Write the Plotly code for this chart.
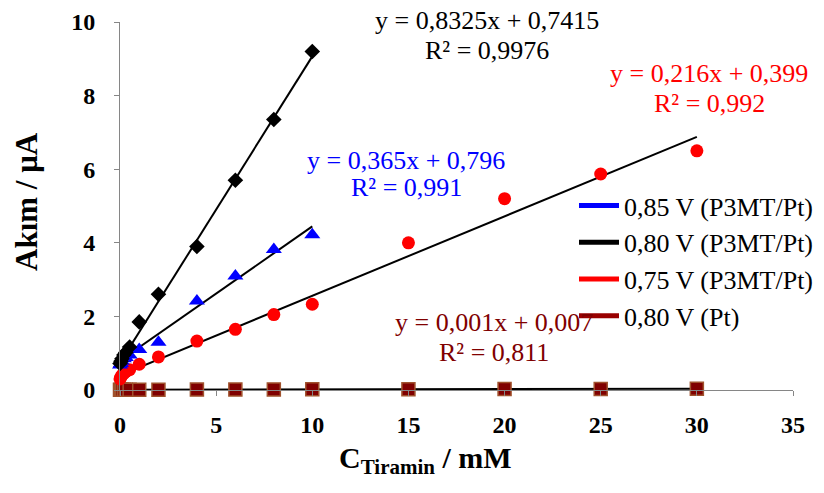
import plotly.graph_objects as go

# ---------------- data ----------------
x_p3mt = [0, 0.05, 0.1, 0.2, 0.3, 0.5, 1, 2, 4, 6, 8, 10]
y_080_p3mt = [0.72, 0.78, 0.85, 0.95, 1.02, 1.17, 1.85, 2.6, 3.9, 5.7, 7.35, 9.2]
y_085_p3mt = [0.68, 0.72, 0.78, 0.85, 0.88, 0.95, 1.1, 1.3, 2.42, 3.1, 3.82, 4.22]

x_075 = [0, 0.05, 0.1, 0.2, 0.3, 0.5, 1, 2, 4, 6, 8, 10, 15, 20, 25, 30]
y_075_p3mt = [0.3, 0.35, 0.4, 0.45, 0.5, 0.55, 0.7, 0.9, 1.33, 1.65, 2.05, 2.33, 4.0, 5.2, 5.87, 6.5]

x_pt = [0, 0.05, 0.1, 0.2, 0.3, 0.5, 1, 2, 4, 6, 8, 10, 15, 20, 25, 30]
y_080_pt = [0.005, 0.006, 0.006, 0.007, 0.008, 0.008, 0.01, 0.01, 0.012, 0.014,
            0.016, 0.018, 0.022, 0.028, 0.03, 0.037]

series_names = ["0,85 V (P3MT/Pt)", "0,80 V (P3MT/Pt)", "0,75 V (P3MT/Pt)", "0,80 V (Pt)"]
series_colors = ["#0000FF", "#000000", "#FF0000", "#990000"]
label_colors = ["#0000FF", "#000000", "#FF0000", "#800000"]

fit_slopes = [0.365, 0.8325, 0.216, 0.001]
fit_intercepts = [0.796, 0.7415, 0.399, 0.007]
fit_r2 = ["0,991", "0,9976", "0,992", "0,811"]
fit_xmax = [10, 10, 30, 30]

x_ticks = [0, 5, 10, 15, 20, 25, 30, 35]
y_ticks = [0, 2, 4, 6, 8, 10]

# ---------------- layout constants (page pixels) ----------------
OFF = 8                       # default page body margin
PAGE_W, PAGE_H = 824, 493
W, H = PAGE_W - OFF, PAGE_H - OFF
PLOT_L, PLOT_R, PLOT_T, PLOT_B = 120, 793, 22, 390   # plot area in page pixels
L, T = PLOT_L - OFF, PLOT_T - OFF
R, B = W - (PLOT_R - OFF), H - (PLOT_B - OFF)
PW, PH = PLOT_R - PLOT_L, PLOT_B - PLOT_T

def px(xp):
    return (xp - PLOT_L) / PW

def py(yp):
    return (PLOT_B - yp) / PH

# label centres in page pixels: (x, y_eq, y_r2)
label_pos = [(406, 160, 187), (487, 21, 50), (709, 73, 103), (494, 322, 352)]

FONT = "Liberation Serif, Times New Roman, serif"

fig = go.Figure()

# trendlines (black)
for i in range(4):
    xs = [0, fit_xmax[i]]
    ys = [fit_intercepts[i] + fit_slopes[i] * v for v in xs]
    fig.add_trace(go.Scatter(x=xs, y=ys, mode="lines",
                             line=dict(color="black", width=2),
                             showlegend=False, hoverinfo="skip", cliponaxis=False))

# markers
fig.add_trace(go.Scatter(x=x_pt, y=y_080_pt, mode="markers", showlegend=False,
                         marker=dict(symbol="square", size=13, color="#800000",
                                     line=dict(color="#A0522D", width=1.5)),
                         cliponaxis=False))
fig.add_trace(go.Scatter(x=x_075, y=y_075_p3mt, mode="markers", showlegend=False,
                         marker=dict(symbol="circle", size=13, color="#FF0000"),
                         cliponaxis=False))
fig.add_trace(go.Scatter(x=x_p3mt, y=y_085_p3mt, mode="markers", showlegend=False,
                         marker=dict(symbol="triangle-up", size=14, color="#0000FF"),
                         cliponaxis=False))
fig.add_trace(go.Scatter(x=x_p3mt, y=y_080_p3mt, mode="markers", showlegend=False,
                         marker=dict(symbol="diamond", size=12, color="#000000"),
                         cliponaxis=False))

# legend entries
for name, col in zip(series_names, series_colors):
    fig.add_trace(go.Scatter(x=[None], y=[None], mode="lines", name=name,
                             line=dict(color=col, width=5)))

def fmt(v):
    return ("%g" % v).replace(".", ",")

annotations = []
for i in range(4):
    xc, ye, yr = label_pos[i]
    eq = "y = %sx + %s" % (fmt(fit_slopes[i]), fmt(fit_intercepts[i]))
    annotations.append(dict(x=px(xc), y=py(ye), xref="paper", yref="paper",
                            text=eq, showarrow=False, xanchor="center", yanchor="middle",
                            font=dict(family=FONT, size=26, color=label_colors[i])))
    annotations.append(dict(x=px(xc), y=py(yr), xref="paper", yref="paper",
                            text="R² = " + fit_r2[i], showarrow=False,
                            xanchor="center", yanchor="middle",
                            font=dict(family=FONT, size=26, color=label_colors[i])))

# axis titles
annotations.append(dict(x=px(425), y=py(460), xref="paper", yref="paper",
                        text="<b>C<sub>Tiramin</sub> / mM</b>", showarrow=False,
                        xanchor="center", yanchor="middle",
                        font=dict(family=FONT, size=30, color="black")))
annotations.append(dict(x=px(27), y=py(202), xref="paper", yref="paper",
                        text="<b>Akım / μA</b>", showarrow=False, textangle=-90,
                        xanchor="center", yanchor="middle",
                        font=dict(family=FONT, size=31, color="black")))

fig.update_layout(
    width=W, height=H,
    margin=dict(l=L, r=R, t=T, b=B, autoexpand=False),
    paper_bgcolor="white", plot_bgcolor="white",
    font=dict(family=FONT, color="black"),
    annotations=annotations,
    legend=dict(x=px(574), y=py(182), xanchor="left", yanchor="top",
                bgcolor="rgba(0,0,0,0)", font=dict(family=FONT, size=26),
                itemwidth=40, tracegroupgap=0),
    xaxis=dict(range=[0, 35], tickvals=x_ticks, showgrid=False, zeroline=False,
               showline=True, linecolor="#868686", linewidth=1, automargin=False,
               ticks="outside", ticklen=5, tickcolor="#868686",
               tickfont=dict(family=FONT, size=24, color="black", weight="bold"),
               ticklabelstandoff=8),
    yaxis=dict(range=[0, 10], tickvals=y_ticks, showgrid=False, zeroline=False,
               showline=True, linecolor="#868686", linewidth=1, automargin=False,
               ticks="outside", ticklen=5, tickcolor="#868686",
               tickfont=dict(family=FONT, size=24, color="black", weight="bold"),
               ticklabelstandoff=14),
)

fig.write_html("out.html")
